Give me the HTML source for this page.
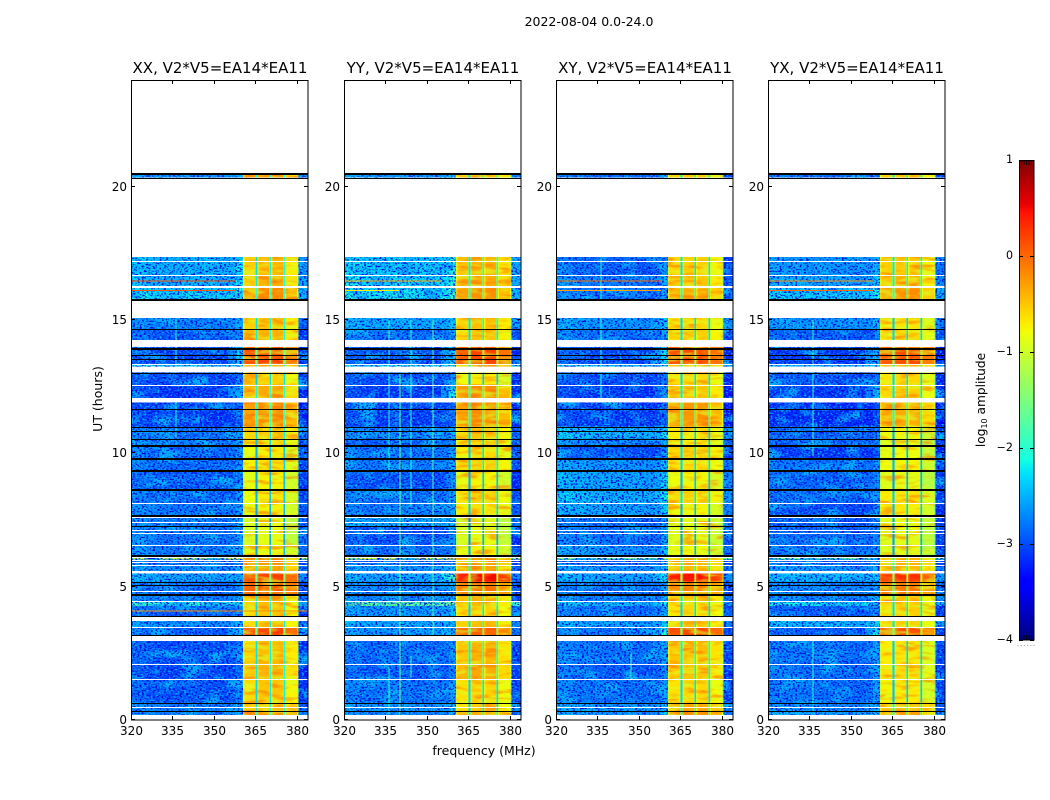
<!DOCTYPE html>
<html lang="en">
<head>
<meta charset="utf-8">
<title>2022-08-04 dynamic spectra</title>
<style>
html,body{margin:0;padding:0;background:#fff;}
svg{display:block;}
text{font-family:"DejaVu Sans","Liberation Sans",sans-serif;fill:#000;}
.cell{shape-rendering:crispEdges;}
</style>
</head>
<body>
<svg id="chart" xmlns="http://www.w3.org/2000/svg" width="1050" height="800" viewBox="0 0 1050 800">
  <rect x="0" y="0" width="1050" height="800" fill="#fff"/>
  <text x="589" y="26" text-anchor="middle" font-size="12.5">2022-08-04 0.0-24.0</text>
  <text x="484" y="755" text-anchor="middle" font-size="12.5">frequency (MHz)</text>
  <text x="0" y="0" transform="translate(102 399) rotate(-90)" text-anchor="middle" font-size="12.5">UT (hours)</text>
  <text x="0" y="0" transform="translate(985 400) rotate(-90)" text-anchor="middle" font-size="12.2">log<tspan font-size="8" dy="2">10</tspan><tspan dy="-2"> amplitude</tspan></text>
  <defs id="defs"></defs>
  <g id="panels"></g>
  <g id="colorbar"></g>
</svg>
<script>
// ---- time blocks (UT hours) ----
const utStart = [20.34,16.69,16.275,15.77,14.66,14.25,13.35,13.25,12.58,12.08,11.0,10.56,10.26,9.77,9.32,8.61,8.12,7.62,7.26,6.58,6.19,6.02,5.83,5.59,5.2,4.66,4.47,4.28,3.89,3.47,3.17,2.09,1.52,0.66,0.36,0.19];
const utStop  = [20.46,17.36,16.69,16.2,15.075,14.66,13.99,13.35,13.04,12.58,11.91,11.0,10.56,10.26,9.77,9.32,8.61,8.12,7.62,7.26,6.58,6.19,6.02,5.83,5.5,5.2,4.66,4.47,4.28,3.71,3.47,2.96,2.09,1.52,0.66,0.36];

// ---- log10 amplitude outside the passband, per block ----
const xxOff = [-2.6,-2.4,-2.4,-2.25,-2.7,-2.9,-3.0,-2.2,-3.0,-3.1,-3.1,-2.8,-2.7,-2.8,-2.8,-2.9,-2.8,-2.75,-2.7,-2.75,-2.7,-1.0,-2.9,-2.6,-2.5,-2.8,-2.7,-2.0,-2.9,-2.6,-2.9,-2.95,-3.0,-2.95,-2.7,-2.7];
const yyOff = [-2.6,-2.3,-2.25,-2.2,-2.5,-2.8,-3.0,-2.2,-3.0,-3.1,-3.1,-2.7,-2.9,-2.8,-2.75,-3.0,-2.8,-2.75,-2.5,-3.0,-2.85,-0.9,-2.9,-2.6,-2.5,-2.7,-2.7,-1.7,-2.6,-2.5,-2.6,-2.85,-2.95,-2.8,-2.6,-2.7];
const xyOff = [-2.8,-2.9,-2.75,-2.8,-2.6,-2.8,-3.0,-2.3,-3.0,-3.1,-3.1,-2.4,-2.7,-3.0,-2.6,-2.5,-2.4,-2.5,-2.8,-2.8,-2.6,-1.5,-2.9,-2.6,-2.5,-2.8,-2.7,-2.4,-2.8,-2.5,-2.8,-2.8,-2.9,-2.8,-2.6,-2.6];
const yxOff = [-2.8,-2.6,-2.5,-2.3,-2.6,-2.9,-3.1,-2.4,-3.0,-3.1,-3.2,-2.9,-2.9,-3.1,-2.8,-2.85,-2.85,-3.0,-2.9,-2.85,-2.8,-1.6,-2.9,-2.6,-2.4,-2.7,-2.7,-2.2,-2.9,-2.4,-2.9,-2.8,-2.8,-2.8,-2.7,-2.5];

// ---- log10 amplitude inside the passband, per block ----
const xxOn = [-0.45,-0.55,-0.5,-0.3,-0.55,-0.5,0.1,-0.5,-0.65,-0.45,-0.3,-0.6,-0.7,-0.8,-0.75,-0.85,-0.8,-0.85,-0.95,-0.95,-0.85,-0.25,-0.35,-0.45,0.1,0.0,-0.5,-0.55,-0.6,-0.6,0.1,-0.55,-0.5,-0.6,-0.55,-0.3];
const yyOn = [-0.55,-0.5,-0.45,-0.3,-0.55,-0.6,0.1,-0.5,-0.8,-0.3,-0.3,-0.6,-0.7,-0.7,-0.6,-0.85,-0.65,-0.7,-1.0,-0.95,-0.85,-0.35,-0.35,-0.45,0.4,-0.15,-0.5,-0.55,-0.65,-0.55,-0.05,-0.5,-0.45,-0.65,-0.65,-0.45];
const xyOn = [-0.55,-0.6,-0.55,-0.4,-0.65,-0.6,0.1,-0.5,-0.65,-0.55,-0.3,-0.7,-0.75,-0.6,-0.65,-0.8,-0.6,-0.8,-0.9,-0.9,-0.85,-0.45,-0.45,-0.5,0.4,-0.2,-0.55,-0.6,-0.65,-0.55,0.15,-0.5,-0.55,-0.65,-0.4,-0.3];
const yxOn = [-0.55,-0.55,-0.5,-0.3,-0.7,-0.65,0.1,-0.5,-0.65,-0.6,-0.4,-0.8,-0.9,-0.85,-0.8,-0.9,-0.7,-0.75,-0.85,-0.9,-0.9,-0.45,-0.45,-0.5,0.25,-0.15,-0.55,-0.6,-0.6,-0.6,0.1,-0.7,-0.65,-0.75,-0.45,-0.35];

// ---- brighter shoulder just below the passband: block index and level ----
const xxEdgeBlock = [6,9,24,30];
const xxEdgeLevel = [-2.3,-2.5,-2.5,-2.3];
const yyEdgeBlock = [6,9,24,30];
const yyEdgeLevel = [-2.2,-2.1,-1.8,-2.1];
const xyEdgeBlock = [6,9,24,30];
const xyEdgeLevel = [-2.2,-2.7,-2.2,-2.1];
const yxEdgeBlock = [6,9,24,30];
const yxEdgeLevel = [-2.3,-2.4,-2.3,-2.1];

// ---- frequency channels (MHz) ----
const offEdges = [320,326,332,338,344,350,355,358,360.5];
const xxOffShape = [0.1,0,-0.05,0,0,-0.05,0,0.2];
const yyOffShape = [0.1,0,0,0.05,0,0,0.05,0.25];
const xyOffShape = [0.15,0.05,0,0,0,-0.05,0,0.25];
const yxOffShape = [0.05,0.05,0,0,0,-0.05,0,0.2];
const chanEdges = [360.5,361.1,364.8,365.1,365.7,366.1,369.9,370.1,370.7,371.1,374.9,375.1,375.7,376.1,380.0,380.5];
const chanDrop  = [-0.25,0,-0.3,-1.7,-0.3,0,-0.3,-1.7,-0.3,0,-0.3,-1.7,-0.3,0,-0.35];
const chanSub   = [0,0,0,0,1,1,1,1,2,2,2,2,3,3,3];
const xxSubGain = [0,0.1,0.12,-0.15];
const yySubGain = [0,0.1,0.1,-0.15];
const xySubGain = [0,0.05,0.05,-0.15];
const yxSubGain = [0,0.05,0.05,-0.22];
const upperEdges = [380.5,384];
const upperDrop = -0.2;

// ---- narrow interference: vertical (constant frequency) ----
const xxRfiFreq = [336,336];
const xxRfiStart = [13.0,10.6];
const xxRfiStop = [15.0,12.0];
const xxRfiLevel = [-2.0,-2.0];
const yyRfiFreq = [336,340,344,352,336,344];
const yyRfiStart = [9.3,0.2,8.0,3.0,0.2,1.6];
const yyRfiStop = [15.0,13.0,15.0,15.0,2.0,2.4];
const yyRfiLevel = [-2.0,-1.6,-2.0,-1.7,-2.0,-1.9];
const xyRfiFreq = [336,347];
const xyRfiStart = [12.0,1.5];
const xyRfiStop = [17.3,2.5];
const xyRfiLevel = [-2.0,-1.9];
const yxRfiFreq = [336,336];
const yxRfiStart = [9.9,0.3];
const yxRfiStop = [15.0,3.0];
const yxRfiLevel = [-1.9,-2.0];

// ---- narrow interference: horizontal (constant UT) ----
const xxToneUt = [16.47,16.1,4.09];
const xxToneStop = [358,358,384];
const xxToneLevel = [0.15,0.1,-0.2];
const yyToneUt = [16.47,16.1];
const yyToneStop = [355,340];
const yyToneLevel = [-0.3,-0.7];
const xyToneUt = [16.47,16.1];
const xyToneStop = [358,358];
const xyToneLevel = [0.0,-0.3];
const yxToneUt = [16.47,16.1];
const yxToneStop = [358,358];
const yxToneLevel = [-0.2,0.0];

// ---- flagged integrations shared by all polarisations (UT hours) ----
const whiteLineUt = [17.23,16.7,13.34,12.58,8.14,7.6,7.44,7.14,7.0,6.58,6.1,6.0,5.91,5.83,4.85,4.47,3.48,2.09,1.53,0.48];
const blackThinUt = [20.34,14.65,13.7,13.54,13.0,11.65,11.0,10.84,10.55,7.28,5.19,5.06,3.91,3.18,0.65,0.35];
const blackThickUt = [20.48,15.75,13.93,10.28,9.8,9.32,8.63,7.65,6.16,4.69];

// ---- axes ----
const panelTitles = ['XX, V2*V5=EA14*EA11','YY, V2*V5=EA14*EA11','XY, V2*V5=EA14*EA11','YX, V2*V5=EA14*EA11'];
const panelKeys = ['xx','yy','xy','yx'];
const panelLefts = [131,344,556,768];
const xTicks = [320,335,350,365,380];
const yTicks = [0,5,10,15,20];
const colorTicks = [1,0,-1,-2,-3,-4];
const colorMin = -4;
const colorMax = 1;

const series = {
  xx:{off:xxOff,on:xxOn,edgeB:xxEdgeBlock,edgeL:xxEdgeLevel,shape:xxOffShape,gain:xxSubGain,rf:xxRfiFreq,rs:xxRfiStart,re:xxRfiStop,rl:xxRfiLevel,tu:xxToneUt,ts:xxToneStop,tl:xxToneLevel},
  yy:{off:yyOff,on:yyOn,edgeB:yyEdgeBlock,edgeL:yyEdgeLevel,shape:yyOffShape,gain:yySubGain,rf:yyRfiFreq,rs:yyRfiStart,re:yyRfiStop,rl:yyRfiLevel,tu:yyToneUt,ts:yyToneStop,tl:yyToneLevel},
  xy:{off:xyOff,on:xyOn,edgeB:xyEdgeBlock,edgeL:xyEdgeLevel,shape:xyOffShape,gain:xySubGain,rf:xyRfiFreq,rs:xyRfiStart,re:xyRfiStop,rl:xyRfiLevel,tu:xyToneUt,ts:xyToneStop,tl:xyToneLevel},
  yx:{off:yxOff,on:yxOn,edgeB:yxEdgeBlock,edgeL:yxEdgeLevel,shape:yxOffShape,gain:yxSubGain,rf:yxRfiFreq,rs:yxRfiStart,re:yxRfiStop,rl:yxRfiLevel,tu:yxToneUt,ts:yxToneStop,tl:yxToneLevel}
};

const NS = 'http://www.w3.org/2000/svg';
const plotTop = 80, plotHeight = 640, plotWidth = 177;
const freqMin = 320, freqMax = 384, utMin = 0, utMax = 24;

function yScale(t){ return plotTop + plotHeight - (t - utMin) / (utMax - utMin) * plotHeight; }
function xScale(left, f){ return left + (f - freqMin) / (freqMax - freqMin) * plotWidth; }

function jetChannel(f, pts){
  for (let i = 1; i < pts.length; i++){
    if (f <= pts[i][0]){
      const a = pts[i-1], b = pts[i];
      return a[1] + (b[1] - a[1]) * (f - a[0]) / (b[0] - a[0]);
    }
  }
  return pts[pts.length-1][1];
}
const jetR = [[0,0],[0.35,0],[0.66,1],[0.89,1],[1,0.5]];
const jetG = [[0,0],[0.125,0],[0.375,1],[0.64,1],[0.91,0],[1,0]];
const jetB = [[0,0.5],[0.11,1],[0.34,1],[0.65,0],[1,0]];
function colorOf(v){
  const f = Math.max(0, Math.min(1, (v - colorMin) / (colorMax - colorMin)));
  const r = Math.round(255 * jetChannel(f, jetR));
  const g = Math.round(255 * jetChannel(f, jetG));
  const b = Math.round(255 * jetChannel(f, jetB));
  return 'rgb(' + r + ',' + g + ',' + b + ')';
}
function mk(tag, attrs, parent){
  const el = document.createElementNS(NS, tag);
  for (const k in attrs) el.setAttribute(k, attrs[k]);
  parent.appendChild(el);
  return el;
}

const defs = document.getElementById('defs');
const panelsRoot = document.getElementById('panels');

function addFilters(i, left){
  const sp = mk('filter', {id:'speckle-'+i, filterUnits:'userSpaceOnUse', x:left, y:plotTop, width:plotWidth, height:plotHeight, 'color-interpolation-filters':'sRGB'}, defs);
  mk('feTurbulence', {type:'fractalNoise', baseFrequency:'0.45 0.62', numOctaves:'1', seed:String(3+i*7), result:'n'}, sp);
  mk('feColorMatrix', {in:'n', type:'matrix', values:'0 0 0 0 0  0 0 0 0 0.05  0 0 0 0 0.88  6 0 0 0 -2.9', result:'dark'}, sp);
  mk('feColorMatrix', {in:'n', type:'matrix', values:'0 0 0 0 0  0 0 0 0 0.7  0 0 0 0 1  0 5 0 0 -2.65', result:'light'}, sp);
  mk('feTurbulence', {type:'fractalNoise', baseFrequency:'0.045 0.08', numOctaves:'2', seed:String(11+i*5), result:'c'}, sp);
  mk('feColorMatrix', {in:'c', type:'matrix', values:'0 0 0 0 0  0 0 0 0 0.72  0 0 0 0 1  4 0 0 0 -1.95', result:'cloud'}, sp);
  const m = mk('feMerge', {}, sp);
  mk('feMergeNode', {in:'cloud'}, m);
  mk('feMergeNode', {in:'dark'}, m);
  mk('feMergeNode', {in:'light'}, m);

  const pa = mk('filter', {id:'patch-'+i, filterUnits:'userSpaceOnUse', x:left, y:plotTop, width:plotWidth, height:plotHeight, 'color-interpolation-filters':'sRGB'}, defs);
  mk('feTurbulence', {type:'fractalNoise', baseFrequency:'0.05 0.2', numOctaves:'2', seed:String(5+i*3), result:'p'}, pa);
  mk('feColorMatrix', {in:'p', type:'matrix', values:'0 0 0 0 1  0 0 0 0 0.45  0 0 0 0 0  4 0 0 0 -1.9', result:'warm'}, pa);
  mk('feColorMatrix', {in:'p', type:'matrix', values:'0 0 0 0 0.85  0 0 0 0 1  0 0 0 0 0.15  0 4 0 0 -1.9', result:'cool'}, pa);
  const m2 = mk('feMerge', {}, pa);
  mk('feMergeNode', {in:'warm'}, m2);
  mk('feMergeNode', {in:'cool'}, m2);
}

function addClip(id, left, f0, f1){
  const cp = mk('clipPath', {id:id}, defs);
  for (let b = 0; b < utStart.length; b++){
    const yTop = yScale(utStop[b]), yBot = yScale(utStart[b]);
    mk('rect', {x:xScale(left,f0), y:yTop, width:xScale(left,f1)-xScale(left,f0), height:yBot-yTop}, cp);
  }
}

panelKeys.forEach(function(key, i){
  const left = panelLefts[i];
  const s = series[key];
  addFilters(i, left);
  addClip('clip-low-'+i, left, freqMin, chanEdges[0]);
  addClip('clip-pass-'+i, left, chanEdges[0], chanEdges[chanEdges.length-1]);
  addClip('clip-high-'+i, left, upperEdges[0], upperEdges[1]);
  addClip('clip-all-'+i, left, freqMin, freqMax);

  const g = mk('g', {}, panelsRoot);
  
  

  const heat = mk('g', {}, g);
  
  

  function cell(f0, f1, b, v){
    const x0 = xScale(left, f0), x1 = xScale(left, f1);
    const yTop = yScale(utStop[b]), yBot = yScale(utStart[b]);
    const r = mk('rect', {class:'cell', x:x0, y:yTop, width:x1-x0, height:yBot-yTop, fill:colorOf(v)}, heat);
    
    
  }

  for (let b = 0; b < utStart.length; b++){
    const ei = s.edgeB.indexOf(b);
    for (let c = 0; c < offEdges.length - 1; c++){
      let v = s.off[b] + s.shape[c];
      if (ei >= 0 && c === offEdges.length - 2) v = s.edgeL[ei];
      if (ei >= 0 && c === offEdges.length - 3) v = (s.off[b] + s.edgeL[ei]) / 2;
      cell(offEdges[c], offEdges[c+1], b, v);
    }
    for (let c = 0; c < chanEdges.length - 1; c++){
      cell(chanEdges[c], chanEdges[c+1], b, s.on[b] + s.gain[chanSub[c]] + chanDrop[c]);
    }
    cell(upperEdges[0], upperEdges[1], b, s.off[b] + upperDrop);
  }

  const texLow = mk('g', {'clip-path':'url(#clip-low-'+i+')'}, g);
  
  
  mk('rect', {x:left, y:plotTop, width:plotWidth, height:plotHeight, fill:'#000', filter:'url(#speckle-'+i+')'}, texLow);
  const texHigh = mk('g', {'clip-path':'url(#clip-high-'+i+')'}, g);
  
  
  mk('rect', {x:left, y:plotTop, width:plotWidth, height:plotHeight, fill:'#000', filter:'url(#speckle-'+i+')'}, texHigh);
  const texPass = mk('g', {'clip-path':'url(#clip-pass-'+i+')', opacity:'0.6'}, g);
  
  
  mk('rect', {x:left, y:plotTop, width:plotWidth, height:plotHeight, fill:'#000', filter:'url(#patch-'+i+')'}, texPass);

  // redraw the channel notches over the texture
  const notches = mk('g', {}, g);
  
  
  for (let b = 0; b < utStart.length; b++){
    for (let c = 0; c < chanEdges.length - 1; c++){
      if (chanDrop[c] > -1) continue;
      const x0 = xScale(left, chanEdges[c]), x1 = xScale(left, chanEdges[c+1]);
      const yTop = yScale(utStop[b]), yBot = yScale(utStart[b]);
      const n = mk('rect', {class:'cell', x:x0, y:yTop, width:x1-x0, height:yBot-yTop, fill:colorOf(s.on[b] + s.gain[chanSub[c]] + chanDrop[c])}, notches);
      
      
    }
  }

  // interference
  const rfi = mk('g', {'clip-path':'url(#clip-all-'+i+')'}, g);
  
  
  s.rf.forEach(function(f, k){
    const yTop = yScale(s.re[k]), yBot = yScale(s.rs[k]);
    const r = mk('rect', {class:'cell', x:xScale(left,f), y:yTop, width:1, height:yBot-yTop, fill:colorOf(s.rl[k])}, rfi);
    
    
  });
  s.tu.forEach(function(t, k){
    const r = mk('rect', {class:'cell', x:left, y:yScale(t)-0.5, width:xScale(left,s.ts[k])-left, height:1, fill:colorOf(s.tl[k])}, rfi);
    
    
  });

  // flags
  whiteLineUt.forEach(function(t){
    const r = mk('rect', {class:'cell', x:left, y:Math.round(yScale(t)), width:plotWidth, height:1, fill:'#fff'}, g);
    
    
  });
  blackThinUt.forEach(function(t){
    const r = mk('rect', {class:'cell', x:left, y:Math.round(yScale(t)), width:plotWidth, height:1, fill:'#000'}, g);
    
    
  });
  blackThickUt.forEach(function(t){
    const r = mk('rect', {class:'cell', x:left, y:Math.round(yScale(t))-1, width:plotWidth, height:2, fill:'#000'}, g);
    
    
  });

  // ticks and labels
  xTicks.forEach(function(f){
    const x = Math.round(xScale(left, f)) + 0.5;
    const t1 = mk('line', {x1:x, x2:x, y1:plotTop+plotHeight, y2:plotTop+plotHeight-4, stroke:'#000', 'stroke-width':1}, g);
    
    
    const t2 = mk('line', {x1:x, x2:x, y1:plotTop, y2:plotTop+4, stroke:'#000', 'stroke-width':1}, g);
    
    
    const lb = mk('text', {x:x, y:plotTop+plotHeight+15, 'text-anchor':'middle', 'font-size':'12'}, g);
    lb.textContent = String(f);
    
    
  });
  yTicks.forEach(function(t){
    const y = Math.round(yScale(t)) - 0.5;
    const t1 = mk('line', {x1:left, x2:left+4, y1:y, y2:y, stroke:'#000', 'stroke-width':1}, g);
    
    
    const t2 = mk('line', {x1:left+plotWidth, x2:left+plotWidth-4, y1:y, y2:y, stroke:'#000', 'stroke-width':1}, g);
    
    
    const lb = mk('text', {x:left-4, y:y+4.5, 'text-anchor':'end', 'font-size':'12'}, g);
    lb.textContent = String(t);
    
    
  });

  const frame = mk('rect', {x:left+0.5, y:plotTop+0.5, width:plotWidth-0.5, height:plotHeight-0.5, fill:'none', stroke:'#000', 'stroke-width':1}, g);
  
  

  const title = mk('text', {x:left+plotWidth/2+0.5, y:plotTop-7, 'text-anchor':'middle', 'font-size':'15'}, g);
  title.textContent = panelTitles[i];
  
  
});

// colorbar
(function(){
  const cb = document.getElementById('colorbar');
  const cbLeft = 1019, cbWidth = 15, cbTop = 160, cbHeight = 480;
  function cY(v){ return cbTop + (colorMax - v) / (colorMax - colorMin) * cbHeight; }
  const steps = 240;
  for (let k = 0; k < steps; k++){
    const v0 = colorMax - k * (colorMax - colorMin) / steps;
    const v1 = colorMax - (k + 1) * (colorMax - colorMin) / steps;
    const r = mk('rect', {class:'cell', x:cbLeft, y:cY(v0), width:cbWidth, height:cY(v1)-cY(v0), fill:colorOf((v0+v1)/2)}, cb);
    
    
  }
  colorTicks.forEach(function(v){
    const y = Math.round(cY(v)) + 0.5;
    const t1 = mk('line', {x1:cbLeft, x2:cbLeft+4, y1:y, y2:y, stroke:'#000', 'stroke-width':1}, cb);
    
    
    const t2 = mk('line', {x1:cbLeft+cbWidth, x2:cbLeft+cbWidth-4, y1:y, y2:y, stroke:'#000', 'stroke-width':1}, cb);
    
    
    const lb = mk('text', {x:cbLeft-6, y:Math.round(cY(v))+3, 'text-anchor':'end', 'font-size':'11.1'}, cb);
    lb.textContent = v < 0 ? '\u2212' + Math.abs(v) : String(v);
    
    
  });
  for (let k = 0; k < 6; k++){
    const x = cbLeft + 2.5 + k * 2.5;
    const t1 = mk('line', {x1:x, x2:x, y1:cbTop, y2:cbTop+5, stroke:'#000', 'stroke-width':0.8}, cb);
    
    
    const t2 = mk('line', {x1:x, x2:x, y1:cbTop+cbHeight, y2:cbTop+cbHeight-5, stroke:'#000', 'stroke-width':0.8}, cb);
    
    
    const d = mk('rect', {x:cbLeft-1.5+k*3.2, y:cbTop+cbHeight+5, width:1, height:1, fill:'#999'}, cb);
    
    
  }
  const fr = mk('rect', {x:cbLeft+0.5, y:cbTop+0.5, width:cbWidth-0.5, height:cbHeight-0.5, fill:'none', stroke:'#000', 'stroke-width':1}, cb);
  
  
})();
</script>
</body>
</html>
